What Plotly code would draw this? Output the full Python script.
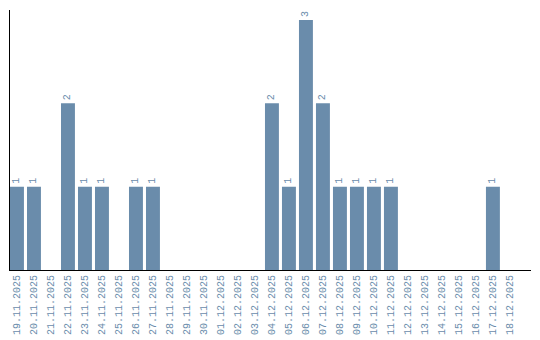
import plotly.graph_objects as go

dates = ["19.11.2025","20.11.2025","21.11.2025","22.11.2025","23.11.2025","24.11.2025",
         "25.11.2025","26.11.2025","27.11.2025","28.11.2025","29.11.2025","30.11.2025",
         "01.12.2025","02.12.2025","03.12.2025","04.12.2025","05.12.2025","06.12.2025",
         "07.12.2025","08.12.2025","09.12.2025","10.12.2025","11.12.2025","12.12.2025",
         "13.12.2025","14.12.2025","15.12.2025","16.12.2025","17.12.2025","18.12.2025"]
counts = [1,1,0,2,1,1,0,1,1,0,0,0,0,0,0,2,1,3,2,1,1,1,1,0,0,0,0,0,1,0]

labels = [str(v) if v > 0 else "" for v in counts]
idx = list(range(len(dates)))

color = "#6a8cab"

fig = go.Figure(go.Bar(
    x=idx, y=counts, text=labels, textposition="outside",
    textangle=-90, cliponaxis=False, width=0.82,
    textfont=dict(family="Liberation Mono", size=10, color=color),
    marker=dict(color=color, line=dict(width=0)),
))
fig.update_layout(
    width=540, height=340,
    margin=dict(l=10, r=9, t=10, b=70),
    paper_bgcolor="white", plot_bgcolor="white",
    showlegend=False,
    xaxis=dict(range=[-0.41, 30.24], tickmode="array", tickvals=idx, ticktext=dates,
               tickangle=-90, showgrid=False, zeroline=False, automargin=False,
               showline=True, linecolor="black", linewidth=1,
               ticks="", ticklabelstandoff=0,
               tickfont=dict(family="Liberation Mono", size=10, color=color)),
    yaxis=dict(range=[0, 3.12], showgrid=False, zeroline=False, automargin=False,
               showline=True, linecolor="black", linewidth=1,
               showticklabels=False, ticks=""),
)
fig.write_html("out.html")
